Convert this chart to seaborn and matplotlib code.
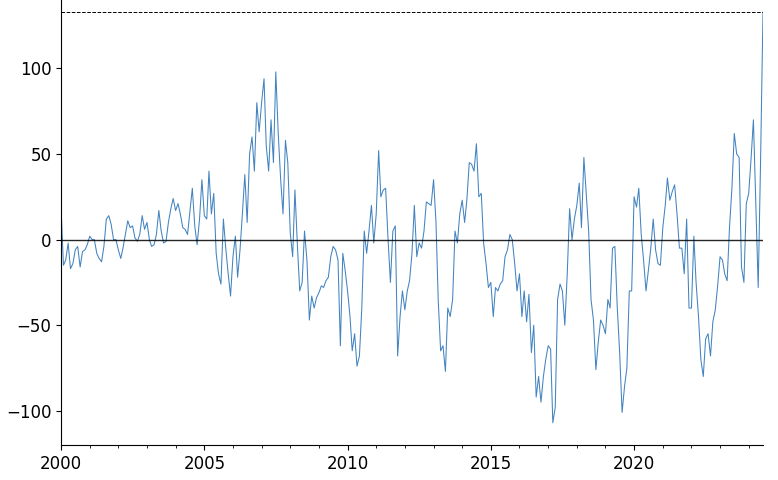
import matplotlib
matplotlib.use('Agg')
import matplotlib.pyplot as plt
import matplotlib.dates as mdates
from matplotlib.ticker import MultipleLocator
import seaborn as sns
import numpy as np
import pandas as pd


START_MONTH = '2000-01-01'

# monthly values (Jan 2000 .. Jul 2024)
values = [
    20, -15, -12, -2, -17, -14, -6, -4, -16, -7, -6, -3,          # 2000
    2, 0, 0, -8, -11, -13, -4, 12, 14, 9, 0, 0,                   # 2001
    -6, -11, -5, 3, 11, 7, 8, 1, -1, 3, 14, 6,                    # 2002
    10, 0, -4, -3, 3, 17, 5, -2, -1, 10, 18, 24,                  # 2003
    17, 21, 15, 7, 6, 3, 16, 30, 8, -3, 12, 35,                   # 2004
    14, 12, 40, 15, 27, -8, -20, -26, 12, -5, -20, -33,           # 2005
    -10, 2, -22, -6, 15, 38, 10, 50, 60, 40, 80, 63,              # 2006
    80, 94, 55, 40, 70, 45, 98, 62, 35, 15, 58, 45,               # 2007
    4, -10, 29, -3, -30, -25, 5, -12, -47, -33, -40, -34,         # 2008
    -31, -27, -28, -24, -22, -10, -4, -6, -12, -62, -8, -18,      # 2009
    -30, -45, -65, -55, -74, -68, -40, 5, -8, 5, 20, -2,          # 2010
    15, 52, 25, 29, 30, 0, -25, 5, 8, -68, -45, -30,              # 2011
    -41, -30, -24, -8, 20, -10, -2, -5, 5, 22, 21, 20,            # 2012
    35, 10, -35, -65, -62, -77, -40, -45, -35, 5, -2, 15,         # 2013
    23, 10, 23, 45, 44, 40, 56, 25, 27, -2, -14, -28,             # 2014
    -25, -45, -28, -30, -26, -24, -10, -6, 3, 0, -14, -30,        # 2015
    -20, -45, -30, -48, -32, -66, -50, -92, -80, -95, -80, -70,   # 2016
    -62, -64, -107, -98, -35, -26, -30, -50, -20, 18, 0, 12,      # 2017
    20, 33, 7, 48, 27, 5, -35, -47, -76, -60, -47, -50,           # 2018
    -55, -35, -40, -5, -4, -40, -66, -101, -86, -75, -30, -30,    # 2019
    25, 19, 30, 3, -12, -30, -18, -5, 12, -6, -14, -15,           # 2020
    7, 20, 36, 23, 28, 32, 15, -5, -5, -20, 12, -40,              # 2021
    -40, 2, -25, -45, -70, -80, -58, -55, -68, -48, -41, -27,     # 2022
    -10, -12, -20, -24, 7, 30, 62, 50, 48, -16, -25, 21,          # 2023
    27, 48, 70, 20, -28, 48, 133,                                 # 2024
]

dates = pd.date_range(START_MONTH, periods = len(values), freq = 'MS')
df = pd.DataFrame({'date': dates, 'value': values})

sns.set_style('ticks', {'axes.edgecolor': 'black',
                        'xtick.color': 'black', 'ytick.color': 'black',
                        'text.color': 'black'})
plt.rcParams['font.family'] = ['DejaVu Sans']

fig, ax = plt.subplots(figsize = (7.78, 4.8), dpi = 100)
fig.subplots_adjust(left = 0.0784, right = 0.9807, bottom = 0.073, top = 1.0)

sns.lineplot(data = df, x = 'date', y = 'value', ax = ax,
             color = '#4283c0', linewidth = 0.75)

ax.axhline(0, color = 'black', linewidth = 1.0, alpha = 0.85)
ax.axhline(values[-1], color = 'black', linewidth = 0.7, linestyle = '--')

ax.set_xlim(dates[0], dates[-1])
ax.set_ylim(-120, 140)
ax.yaxis.set_major_locator(MultipleLocator(50))
ax.xaxis.set_major_locator(mdates.YearLocator(5))
ax.xaxis.set_minor_locator(mdates.YearLocator(1))
ax.xaxis.set_major_formatter(mdates.DateFormatter('%Y'))
ax.tick_params(axis = 'both', which = 'major', labelsize = 12, labelcolor = 'black')
ax.set_xlabel('')
ax.set_ylabel('')
sns.despine(ax = ax)

fig.savefig('out.png', dpi = 100)
plt.close(fig)
